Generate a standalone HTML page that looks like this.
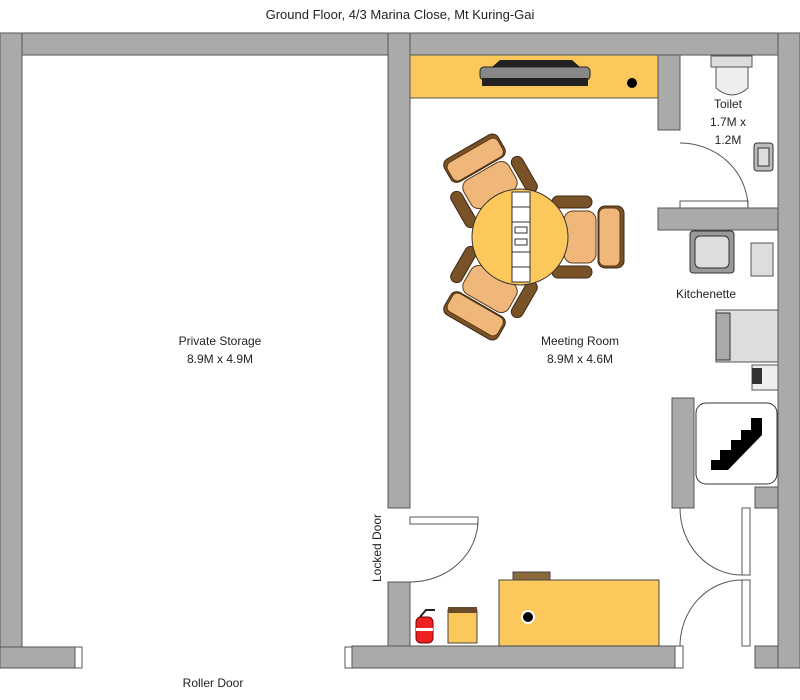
<!DOCTYPE html>
<html><head><meta charset="utf-8"><style>body{margin:0;background:#fff}svg{display:block}text{font-family:"Liberation Sans",sans-serif;fill:#222}</style></head>
<body>
<svg width="800" height="700" viewBox="0 0 800 700" xmlns="http://www.w3.org/2000/svg">
<defs>
<g id="chair">
 <rect x="32" y="-41" width="40" height="12" rx="6" fill="#7a5228" stroke="#3d2810"/>
 <rect x="32" y="29" width="40" height="12" rx="6" fill="#7a5228" stroke="#3d2810"/>
 <rect x="44" y="-26" width="32" height="52" rx="9" fill="#f0b77a" stroke="#5a3a18"/>
 <rect x="78" y="-31" width="26" height="62" rx="7" fill="#7a5228" stroke="#3d2810"/>
 <rect x="79" y="-29" width="21" height="58" rx="6" fill="#f0b77a" stroke="#5a3a18"/>
</g>
</defs>
<text x="400" y="19" font-size="13" text-anchor="middle">Ground Floor, 4/3 Marina Close, Mt Kuring-Gai</text>
<g fill="#aaaaaa" stroke="#555" stroke-width="1">
 <rect x="0" y="33" width="800" height="22"/>
 <rect x="0" y="33" width="22" height="635"/>
 <rect x="0" y="647" width="75" height="21"/>
 <rect x="388" y="33" width="22" height="475"/>
 <rect x="388" y="582" width="22" height="86"/>
 <rect x="352" y="646" width="323" height="22"/>
 <rect x="778" y="33" width="22" height="635"/>
 <rect x="658" y="55" width="22" height="75"/>
 <rect x="658" y="208" width="120" height="22"/>
 <rect x="672" y="398" width="22" height="110"/>
 <rect x="755" y="487" width="23" height="21"/>
 <rect x="755" y="646" width="23" height="22"/>
</g>
<g fill="#fff" stroke="#555">
 <rect x="75" y="647" width="7" height="21"/>
 <rect x="345" y="647" width="7" height="21"/>
 <rect x="675" y="646" width="8" height="22"/>
 <rect x="742" y="508" width="8" height="67"/>
 <rect x="742" y="580" width="8" height="66"/>
 <rect x="410" y="517" width="68" height="7"/>
 <rect x="680" y="201" width="68" height="7"/>
</g>
<g fill="none" stroke="#555">
 <path d="M478 520 A68 62 0 0 1 410 582"/>
 <path d="M680 143 A68 65 0 0 1 748 208"/>
 <path d="M680 508 A62 67 0 0 0 742 575"/>
 <path d="M742 580 A62 66 0 0 0 680 646"/>
</g>
<!-- shelf -->
<rect x="410" y="55" width="248" height="43" fill="#fcc75b" stroke="#555"/>
<path d="M492 67 L500 60 L572 60 L580 67 Z" fill="#222"/>
<rect x="480" y="67" width="110" height="13" rx="4" fill="#888" stroke="#222"/>
<rect x="482" y="78" width="106" height="8" fill="#222"/>
<circle cx="632" cy="83" r="5" fill="#000"/>
<!-- toilet -->
<rect x="711" y="56" width="41" height="11" fill="#ddd" stroke="#555"/>
<path d="M716 67 L748 67 L748 88 Q732 102 716 88 Z" fill="#eee" stroke="#555"/>
<text x="728" y="108" font-size="12" text-anchor="middle">Toilet</text>
<text x="728" y="126" font-size="12" text-anchor="middle">1.7M x</text>
<text x="728" y="144" font-size="12" text-anchor="middle">1.2M</text>
<rect x="754" y="143" width="19" height="28" rx="3" fill="#bbb" stroke="#333"/>
<rect x="758" y="148" width="11" height="18" fill="#ddd" stroke="#333"/>
<!-- kitchen -->
<rect x="690" y="231" width="44" height="42" rx="3" fill="#999" stroke="#333"/>
<rect x="695" y="236" width="34" height="32" rx="5" fill="#ddd" stroke="#333"/>
<rect x="751" y="243" width="22" height="33" fill="#ddd" stroke="#555"/>
<text x="706" y="298" font-size="12" text-anchor="middle">Kitchenette</text>
<rect x="716" y="310" width="62" height="52" fill="#ddd" stroke="#555"/>
<rect x="716" y="313" width="14" height="47" fill="#aaa" stroke="#333"/>
<rect x="752" y="365" width="26" height="25" fill="#eee" stroke="#555"/>
<rect x="752" y="368" width="10" height="16" fill="#333"/>
<!-- stairs -->
<rect x="696" y="403" width="81" height="81" rx="10" fill="#fff" stroke="#333"/>
<path d="M711 470 L711 460 L720 460 L720 450 L731 450 L731 440 L741 440 L741 430 L751 430 L751 418 L762 418 L762 435 L728 470 Z" fill="#000"/>
<!-- table -->
<g transform="translate(520,237)">
 <use href="#chair"/>
 <use href="#chair" transform="rotate(120)"/>
 <use href="#chair" transform="rotate(240)"/>
 <circle r="48" fill="#fcc75b" stroke="#333"/>
 <rect x="-8" y="-45" width="18" height="90" fill="#fff" stroke="#333"/>
 <g stroke="#333" fill="none"><line x1="-8" y1="-30" x2="10" y2="-30"/><line x1="-8" y1="-15" x2="10" y2="-15"/><line x1="-8" y1="15" x2="10" y2="15"/><line x1="-8" y1="30" x2="10" y2="30"/>
 <rect x="-5" y="-10" width="12" height="6"/><rect x="-5" y="2" width="12" height="6"/></g>
</g>
<text x="580" y="345" font-size="12" text-anchor="middle">Meeting Room</text>
<text x="580" y="363" font-size="12" text-anchor="middle">8.9M x 4.6M</text>
<text x="220" y="345" font-size="12" text-anchor="middle">Private Storage</text>
<text x="220" y="363" font-size="12" text-anchor="middle">8.9M x 4.9M</text>
<text x="213" y="687" font-size="12" text-anchor="middle">Roller Door</text>
<text transform="translate(381,548) rotate(-90)" font-size="12" text-anchor="middle">Locked Door</text>
<!-- desk -->
<rect x="513" y="572" width="37" height="8" fill="#8a6a3a" stroke="#444"/>
<rect x="499" y="580" width="160" height="66" fill="#fcc75b" stroke="#444"/>
<circle cx="528" cy="617" r="6" fill="#000" stroke="#fff" stroke-width="2"/>
<rect x="448" y="610" width="29" height="33" fill="#fcc75b" stroke="#444"/>
<rect x="448" y="607" width="29" height="6" fill="#6a4a2a"/>
<rect x="416" y="617" width="17" height="26" rx="5" fill="#e22" stroke="#700"/>
<rect x="416" y="628" width="17" height="3" fill="#fff"/>
<path d="M420 617 L426 610 L435 610" stroke="#222" fill="none" stroke-width="2"/>
</svg>
</body></html>
